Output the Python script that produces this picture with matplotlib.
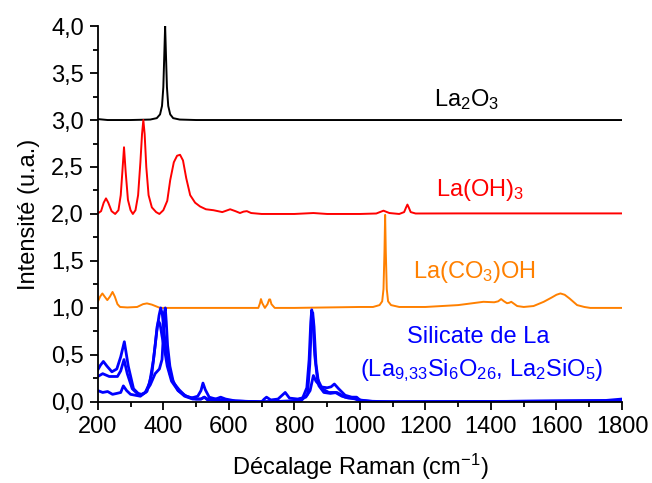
import matplotlib
matplotlib.use('Agg')
import matplotlib.pyplot as plt
from matplotlib.ticker import MultipleLocator, FuncFormatter

plt.rcParams['font.family'] = ['Liberation Sans', 'DejaVu Sans']
plt.rcParams['mathtext.fontset'] = 'custom'
plt.rcParams['mathtext.rm'] = 'Liberation Sans'
plt.rcParams['mathtext.it'] = 'Liberation Sans:italic'

# --- spectres (décalage Raman en cm-1, intensité normalisée + offset) ---
la2o3_x = [200, 230, 300, 360, 380, 390, 396, 400, 403, 405.5, 408, 411, 415, 421, 430, 450, 500, 1800]
la2o3_y = [3.01, 3.0, 3.0, 3.005, 3.02, 3.06, 3.15, 3.35, 3.7, 4.0, 3.7, 3.35, 3.15, 3.06, 3.02, 3.005, 3.0, 3.0]

laoh_x = [200, 210, 218, 225, 232, 242, 253, 263, 270, 275, 280, 285, 292, 300, 307, 315, 323, 330, 335,
          339, 343, 348, 355, 365, 378, 388, 400, 412, 421, 432, 442, 451, 460, 470, 482, 497, 512, 530,
          553, 580, 604, 620, 634, 645, 655, 668, 700, 800, 858, 900, 1000, 1050, 1072, 1090, 1120, 1135,
          1141, 1145, 1149, 1155, 1170, 1300, 1500, 1800]
laoh_y = [2.006, 2.03, 2.12, 2.166, 2.12, 2.03, 2.0, 2.04, 2.2, 2.45, 2.71, 2.45, 2.15, 2.04, 2.0, 2.04, 2.2,
          2.55, 2.85, 3.0, 2.85, 2.5, 2.2, 2.07, 2.02, 2.0, 2.04, 2.14, 2.36, 2.55, 2.62, 2.63, 2.57, 2.38,
          2.2, 2.12, 2.08, 2.05, 2.04, 2.02, 2.05, 2.03, 2.01, 2.025, 2.03, 2.01, 2.0, 2.0, 2.01, 2.0,
          2.0, 2.005, 2.035, 2.01, 2.0, 2.02, 2.07, 2.1, 2.07, 2.02, 2.005, 2.006, 2.006, 2.006]

lacooh_x = [200, 207, 214, 221, 229, 237, 245, 252, 260, 268, 290, 320, 338, 350, 365, 390, 450, 600,
            690, 695, 698, 702, 710, 718, 723, 726, 730, 740, 800, 900, 1000, 1040, 1060, 1068, 1072,
            1075, 1077, 1079, 1082, 1086, 1095, 1120, 1200, 1300, 1377, 1410, 1422, 1431, 1440, 1449,
            1456, 1462, 1468, 1480, 1500, 1530, 1561, 1585, 1600, 1612, 1625, 1640, 1663, 1685, 1703, 1800]
lacooh_y = [1.065, 1.12, 1.154, 1.12, 1.083, 1.12, 1.17, 1.12, 1.04, 1.01, 1.005, 1.01, 1.04, 1.048,
            1.035, 1.0, 1.0, 1.0, 1.0, 1.05, 1.094, 1.05, 1.0, 1.04, 1.09, 1.09, 1.04, 1.0, 1.0, 1.005,
            1.01, 1.01, 1.03, 1.07, 1.2, 1.6, 1.99, 1.6, 1.2, 1.07, 1.03, 1.01, 1.01, 1.03, 1.065, 1.06,
            1.07, 1.094, 1.07, 1.05, 1.055, 1.065, 1.05, 1.02, 1.01, 1.02, 1.065, 1.11, 1.14, 1.154, 1.14,
            1.1, 1.03, 1.01, 1.0, 1.0]

sil_a_x = [200, 208, 217, 228, 243, 258, 270, 281, 293, 309, 329, 345, 358, 370, 380, 387, 392, 397, 403,
           410, 420, 432, 448, 465, 485, 505, 515, 521, 528, 540, 560, 600, 700, 800, 825, 838, 845, 850,
           853, 857, 862, 870, 885, 905, 925, 945, 965, 990, 1010, 1050, 1300, 1600, 1750, 1800]
sil_a_y = [0.34, 0.39, 0.43, 0.38, 0.32, 0.35, 0.48, 0.64, 0.38, 0.14, 0.07, 0.1, 0.2, 0.45, 0.75, 0.92,
           1.0, 0.93, 0.72, 0.48, 0.3, 0.2, 0.13, 0.07, 0.04, 0.06, 0.12, 0.2, 0.13, 0.05, 0.03, 0.01,
           0.0, 0.01, 0.04, 0.15, 0.45, 0.85, 0.98, 0.85, 0.5, 0.25, 0.14, 0.1, 0.1, 0.06, 0.04, 0.03,
           0.01, 0.0, 0.0, 0.01, 0.015, 0.03]

sil_b_x = [200, 215, 235, 260, 270, 280, 290, 305, 320, 335, 350, 365, 375, 381, 385, 390, 396, 404, 412,
           425, 445, 470, 500, 515, 525, 535, 550, 600, 700, 820, 840, 847, 852, 856, 860, 866, 875, 890,
           910, 930, 955, 980, 1000, 1100, 1800]
sil_b_y = [0.27, 0.30, 0.27, 0.27, 0.33, 0.45, 0.3, 0.14, 0.09, 0.08, 0.11, 0.3, 0.6, 0.8, 0.86, 0.83,
           0.7, 0.55, 0.38, 0.22, 0.12, 0.06, 0.03, 0.03, 0.05, 0.03, 0.02, 0.01, 0.0, 0.01, 0.08, 0.4,
           0.85, 0.95, 0.8, 0.4, 0.17, 0.1, 0.09, 0.1, 0.05, 0.04, 0.01, 0.0, 0.01]

sil_c_x = [200, 215, 230, 245, 258, 270, 278, 288, 300, 315, 330, 345, 360, 375, 388, 396, 400, 403, 406,
           409, 413, 420, 430, 445, 465, 490, 515, 525, 535, 560, 575, 590, 620, 700, 708, 715, 728, 750,
           772, 785, 810, 835, 848, 858, 866, 880, 900, 912, 922, 935, 955, 975, 990, 1000, 1050, 1800]
sil_c_y = [0.12, 0.1, 0.11, 0.08, 0.09, 0.1, 0.17, 0.12, 0.08, 0.07, 0.06, 0.1, 0.18, 0.3, 0.35, 0.45,
           0.7, 0.95, 1.0, 0.85, 0.6, 0.38, 0.22, 0.12, 0.06, 0.03, 0.03, 0.05, 0.02, 0.03, 0.05, 0.03,
           0.01, 0.0, 0.03, 0.05, 0.02, 0.03, 0.1, 0.04, 0.03, 0.05, 0.12, 0.28, 0.22, 0.16, 0.15, 0.16,
           0.19, 0.14, 0.07, 0.05, 0.05, 0.02, 0.0, 0.01]

fig = plt.figure(figsize=(6.52, 4.83), dpi=100, facecolor='white')
ax = fig.add_axes([0.150, 0.168, 0.804, 0.778])

ax.plot(la2o3_x, la2o3_y, color='black', lw=1.4)
ax.plot(laoh_x, laoh_y, color='#FF0000', lw=1.4)
ax.plot(lacooh_x, lacooh_y, color='#FF8000', lw=1.4)
for xs, ys in [(sil_a_x, sil_a_y), (sil_b_x, sil_b_y), (sil_c_x, sil_c_y)]:
    ax.plot(xs, ys, color='#0000FF', lw=2.0)

fs = 17
ax.text(1227, 3.15, r'La$_2$O$_3$', color='black', fontsize=fs)
ax.text(1233, 2.19, r'La(OH)$_3$', color='#FF0000', fontsize=fs)
ax.text(1162, 1.314, r'La(CO$_3$)OH', color='#FF8000', fontsize=fs)
ax.text(1143, 0.63, 'Silicate de La', color='#0000FF', fontsize=fs)
ax.text(1001, 0.27, r'(La$_{9{,}33}$Si$_6$O$_{26}$, La$_2$SiO$_5$)', color='#0000FF', fontsize=fs)

ax.set_xlim(200, 1800)
ax.set_ylim(0, 4.0)
ax.xaxis.set_major_locator(MultipleLocator(200))
ax.xaxis.set_minor_locator(MultipleLocator(100))
ax.yaxis.set_major_locator(MultipleLocator(0.5))
ax.yaxis.set_minor_locator(MultipleLocator(0.25))
ax.yaxis.set_major_formatter(FuncFormatter(lambda v, p: f'{v:.1f}'.replace('.', ',')))

ax.spines['top'].set_visible(False)
ax.spines['right'].set_visible(False)
for s in ['left', 'bottom']:
    ax.spines[s].set_linewidth(1.3)
ax.tick_params(which='major', direction='out', length=6, width=1.3, labelsize=fs, pad=4)
ax.tick_params(which='minor', direction='out', length=3.5, width=1.3)

ax.set_xlabel(r'Décalage Raman (cm$^{-1}$)', fontsize=fs, labelpad=10)
ax.set_ylabel('Intensité (u.a.)', fontsize=fs, labelpad=8)

fig.savefig('out.png', dpi=100, facecolor='white')
plt.close()
